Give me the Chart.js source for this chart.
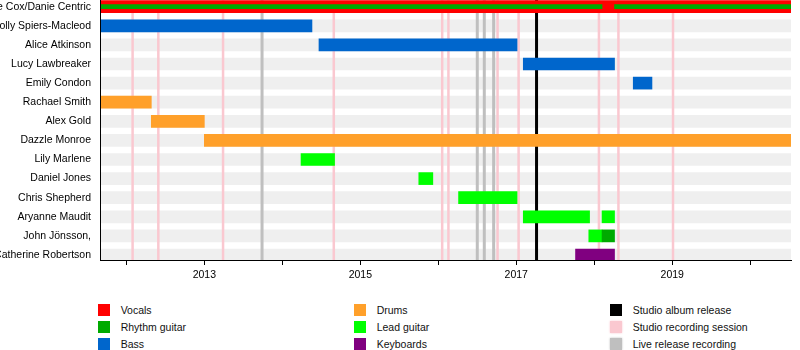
<!DOCTYPE html>
<html>
<head>
<meta charset="utf-8">
<title>Band timeline</title>
<script src="https://cdn.jsdelivr.net/npm/chart.js@4.4.0/dist/chart.umd.min.js"></script>
<style>
  html, body { margin: 0; padding: 0; background: #fff; }
  #wrap { position: relative; width: 800px; height: 350px; overflow: hidden; font-family: "Liberation Sans", Arial, sans-serif; }
  #chart-box { position: absolute; left: 0; top: 0; width: 800px; height: 292px; }
  .lg { position: absolute; font-size: 10.5px; line-height: 12px; color: #111; white-space: nowrap; }
  .lg i { position: absolute; left: -23px; top: 0; width: 12px; height: 12px; }
</style>
</head>
<body>
<div id="wrap">
  <div id="chart-box"><canvas id="timeline"></canvas></div>
  <div id="legend"></div>
</div>
<script>
// rows, top to bottom
const members = [
  'e Cox/Danie Centric', 'Molly Spiers-Macleod', 'Alice Atkinson', 'Lucy Lawbreaker',
  'Emily Condon', 'Rachael Smith', 'Alex Gold', 'Dazzle Monroe', 'Lily Marlene',
  'Daniel Jones', 'Chris Shepherd', 'Aryanne Maudit', 'John Jönsson,', 'Catherine Robertson',
];
const xMin = 2011.662, xMax = 2020.523;
const yMin = -0.351, yMax = 13.262;
const yearLabels = [2013, 2015, 2017, 2019];

// [row, from, to] in decimal years
const vocals = [[0, xMin, xMax]];
const rhythmGuitar = [[0, xMin, 2018.10], [0, 2018.26, xMax], [12, 2018.10, 2018.26]];
const bass = [[1, xMin, 2014.38], [2, 2014.47, 2017.01], [3, 2017.09, 2018.26], [4, 2018.50, 2018.74]];
const drums = [[5, xMin, 2012.32], [6, 2012.32, 2013.0], [7, 2013.0, xMax]];
const leadGuitar = [
  [8, 2014.24, 2014.67], [9, 2015.75, 2015.93], [10, 2016.26, 2017.01],
  [11, 2017.09, 2017.94], [11, 2018.10, 2018.26], [12, 2017.93, 2018.10],
];
const keyboards = [[13, 2017.76, 2018.26]];

// vertical event markers
const albumReleases = [2017.26];
const studioSessions = [2012.08, 2012.41, 2013.24, 2014.66, 2016.05, 2016.13, 2016.76, 2017.03, 2018.06, 2018.31, 2019.01];
const liveRecordings = [2013.74, 2016.50, 2016.59, 2016.71];

const legendLabels = [
  'Vocals', 'Rhythm guitar', 'Bass', 'Drums', 'Lead guitar', 'Keyboards',
  'Studio album release', 'Studio recording session', 'Live release recording',
];
const legendColors = [
  '#ff0000', '#00aa00', '#0066cc', '#ffa02a', '#00ff00', '#800080',
  '#000000', 'rgb(250,200,208)', '#bfbfbf',
];
const C = Object.fromEntries(legendLabels.map((l, i) => [l, legendColors[i]]));

function periodBars(periods, color, thickness, order) {
  return {
    type: 'bar',
    data: periods.map(([row, from, to]) => ({ x: [from, to], y: row })),
    backgroundColor: color, barThickness: thickness, grouped: false, order,
  };
}
function eventLines(dates, color, width, order) {
  return dates.map(d => ({
    type: 'line',
    data: [{ x: d, y: yMin }, { x: d, y: yMax }],
    borderColor: color, borderWidth: width, pointRadius: 0, pointHoverRadius: 0, order,
  }));
}

const datasets = [
  periodBars(members.map((_, i) => [i, xMin, xMax]), '#efefef', 12, 20),
  ...eventLines(studioSessions, C['Studio recording session'], 2.5, 10),
  ...eventLines(liveRecordings, C['Live release recording'], 3, 9),
  ...eventLines(albumReleases, C['Studio album release'], 3, 8),
  periodBars(vocals, C['Vocals'], 12, 3),
  periodBars(rhythmGuitar.filter(p => p[0] !== 0), C['Rhythm guitar'], 12, 2),
  periodBars(rhythmGuitar.filter(p => p[0] === 0), C['Rhythm guitar'], 4, 1),
  periodBars(bass, C['Bass'], 12, 2),
  periodBars(drums, C['Drums'], 12, 2),
  periodBars(leadGuitar, C['Lead guitar'], 12, 2),
  periodBars(keyboards, C['Keyboards'], 12, 2),
];

Chart.defaults.font.family = '"Liberation Sans", Arial, sans-serif';
Chart.defaults.font.size = 10.5;
Chart.defaults.color = '#000';

new Chart(document.getElementById('timeline'), {
  type: 'bar',
  data: { datasets },
  options: {
    indexAxis: 'y',
    responsive: true, maintainAspectRatio: false, animation: false,
    layout: { autoPadding: false, padding: { top: 0, right: 9, bottom: 0, left: 0 } },
    plugins: { legend: { display: false }, tooltip: { enabled: false } },
    scales: {
      x: {
        type: 'linear', position: 'bottom', min: xMin, max: xMax, offset: false,
        ticks: {
          stepSize: 1, includeBounds: false, autoSkip: false, maxRotation: 0, padding: 4,
          callback: v => yearLabels.includes(v) ? String(v) : '',
        },
        grid: { offset: false, drawOnChartArea: false, drawTicks: true, tickLength: 5, color: '#000' },
        border: { display: true, color: '#000', z: 1 },
        afterFit: s => { s.height = 32; s.paddingLeft = 0; s.paddingRight = 0; },
      },
      y: {
        // bar charts default the index axis to offset: true, which shifts the rows
        type: 'linear', reverse: true, min: yMin, max: yMax, offset: false,
        afterBuildTicks: s => { s.ticks = members.map((_, i) => ({ value: i })); },
        ticks: { autoSkip: false, padding: 9, callback: v => members[v] },
        grid: { offset: false, drawOnChartArea: false, drawTicks: false, color: 'rgba(0,0,0,0)' },
        // border above the row bands, like the reference
        border: { display: true, color: '#000', z: 1 },
        afterFit: s => { s.width = 100; s.paddingTop = 0; s.paddingBottom = 0; },
      },
    },
  },
});

// legend: three columns of three
const legendCols = [120.7, 376.7, 632.7];
const legendRows = [304, 321, 338];
document.getElementById('legend').innerHTML = legendLabels.map((label, i) => {
  const col = Math.floor(i / 3), row = i % 3;
  const soft = i >= 7 ? `box-shadow:0 0 2px ${legendColors[i]};` : '';
  return `<div class="lg" style="left:${legendCols[col]}px;top:${legendRows[row]}px">` +
    `<i style="background:${legendColors[i]};${soft}"></i>${label}</div>`;
}).join('');
</script>
</body>
</html>
